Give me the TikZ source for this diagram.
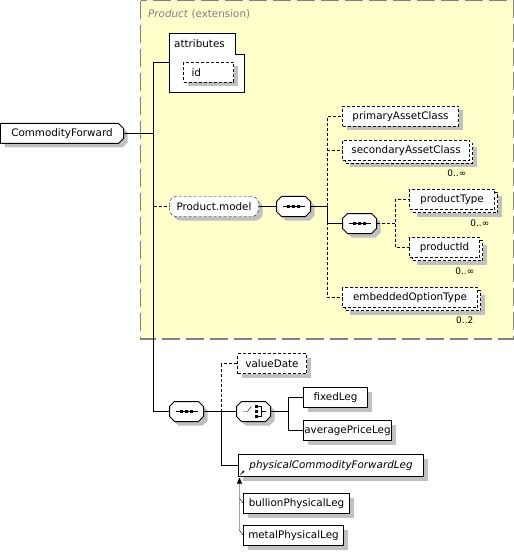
\documentclass[tikz,border=0pt]{standalone}
\usepackage{fontspec}
\setmainfont{DejaVu Sans}
\usetikzlibrary{shadows,arrows.meta}
\definecolor{ext}{RGB}{255,255,204}
\definecolor{shd}{RGB}{192,192,192}
\definecolor{extline}{RGB}{128,128,128}
\pgfdeclarelayer{frame}
\pgfdeclarelayer{shapes}
\pgfsetlayers{frame,shapes,main}

% outline with cut corners: #1 node, #2 cut on the left (0 = none), #3 path options
\newcommand{\chpath}[3]{%
  \path[#3] ([shift={(#2,0)}]#1.north west) -- ([shift={(-5,0)}]#1.north east)
    -- ([shift={(0,5)}]#1.north east) -- ([shift={(0,-5)}]#1.south east)
    -- ([shift={(-5,0)}]#1.south east) -- ([shift={(#2,0)}]#1.south west)
    -- ([shift={(0,-#2)}]#1.south west) -- ([shift={(0,#2)}]#1.north west) -- cycle;}
\newcommand{\chamf}[2]{%
  \begin{pgfonlayer}{shapes}
    \chpath{#1}{#2}{fill=shd,transform canvas={shift={(4bp,-4bp)}}}
    \chpath{#1}{#2}{draw=black,line width=1bp,fill=white}
  \end{pgfonlayer}}
\newcommand{\seqicon}[1]{%
  \chamf{#1}{5}
  \draw ([xshift=-11bp]#1.center) -- ([xshift=11bp]#1.center);
  \foreach \dx in {-5,0,5}
    \fill ([shift={(\dx-1.5,-1.5)}]#1.center) rectangle ++(3,3);
}
\newcommand{\choiceicon}[1]{%
  \chamf{#1}{5}
  \draw ([xshift=-11bp]#1.center) -- ++(5,0) -- ++(4,-5);
  \foreach \dy in {-5,0,5}
    \fill ([shift={(1.5,\dy-1.5)}]#1.center) rectangle ++(3,3);
  \draw ([shift={(4,-5)}]#1.center) -- ++(4,0) -- ++(0,10) -- ++(-4,0)
    ([shift={(8,0)}]#1.center) -- ++(4,0);
}

\begin{document}
\begin{tikzpicture}[x=1bp,y=-1bp,line width=1bp,
    font=\fontsize{10.4}{12}\selectfont,
    box/.style={draw,fill=white,anchor=west,minimum height=20bp,inner sep=0pt,outer sep=0pt},
    shd/.style={drop shadow={shadow xshift=4bp,shadow yshift=-4bp,fill=shd,opacity=1}},
    elem/.style={box,shd},
    opt/.style={dash pattern=on 3bp off 2bp},
    multi/.style={box,opt,
      general shadow={shadow xshift=7bp,shadow yshift=-7bp,fill=shd},
      general shadow={shadow xshift=3bp,shadow yshift=-3bp,fill=white,draw=black,
        dash pattern=on 3bp off 2bp}},
    cnode/.style={anchor=west,inner sep=0pt,outer sep=0pt,minimum height=20bp},
    comp/.style={cnode,minimum width=34bp},
    grp/.style={elem,opt,rounded corners=7bp},
    card/.style={anchor=base east,inner sep=0pt,font=\fontsize{9}{10}\selectfont}]
  \useasboundingbox (0,0) rectangle (514,553);

  % extension frame
  \begin{pgfonlayer}{frame}
    \draw[extline,fill=ext,line width=1.2bp,dash pattern=on 18bp off 6bp]
      (140.6,0.6) rectangle (513.4,339);
  \end{pgfonlayer}
  \node[anchor=west,inner sep=0pt,text=extline] (extlbl) at (148,14)
    {\textit{Product} (extension)};

  \node[cnode,minimum width=123bp] (cf) at (0.5,133.5) {CommodityForward};
  \chamf{cf}{0}

  % attributes
  \draw[fill=white] (169.5,33.5) -- (235.5,33.5) -- (235.5,54.5) -- (244.5,54.5)
    -- (244.5,92.5) -- (169.5,92.5) -- cycle;
  \node[anchor=west,inner sep=0pt] (attrlbl) at (174,43.5) {attributes};
  \coordinate (attr) at (169.5,62.5);
  \node[elem,opt,text width=34bp,align=left,inner xsep=8bp] (id) at (183.5,72.5) {id};

  \node[grp,minimum width=89bp] (pmodel) at (169.5,206.5) {Product.model};
  \node[comp] (seqA) at (276.5,206.5) {};
  \seqicon{seqA}

  \node[elem,opt,minimum width=116bp] (pac) at (342.5,116.5) {primaryAssetClass};
  \node[multi,minimum width=127bp] (sac) at (342.5,150.5) {secondaryAssetClass};
  \node[comp] (seqC) at (342.5,223.5) {};
  \seqicon{seqC}
  \node[multi,minimum width=85bp] (ptype) at (409.5,199.5) {productType};
  \node[multi,minimum width=70bp] (pid) at (409.5,247.5) {productId};
  \node[multi,minimum width=135bp] (eot) at (342.5,297.5) {embeddedOptionType};

  \node[card] (sacc) at ([shift={(-3,16)}]sac.south east) {0..∞};
  \node[card] (ptypec) at ([shift={(-5,17)}]ptype.south east) {0..∞};
  \node[card] (pidc) at ([shift={(-5,17)}]pid.south east) {0..∞};
  \node[card] (eotc) at ([shift={(-4,16)}]eot.south east) {0..2};

  % lower part
  \node[comp] (seqB) at (169.5,411.5) {};
  \seqicon{seqB}
  \node[elem,opt,minimum width=69bp] (vdate) at (237.5,363.5) {valueDate};
  \node[comp] (choice) at (236.5,411.5) {};
  \choiceicon{choice}
  \node[elem,minimum width=64bp] (fixed) at (303.5,397.5) {fixedLeg};
  \node[elem,minimum width=88bp] (avg) at (303.5,430.5) {averagePriceLeg};
  \node[elem,minimum width=185bp,minimum height=22bp,font=\fontsize{10.4}{12}\selectfont\itshape]
    (pcfl) at (238.5,465.5) {physicalCommodityForwardLeg};
  \draw[-{Stealth[length=2.5bp,width=2.5bp]},line width=0.7bp]
    ([shift={(2,-2)}]pcfl.south west) -- ++(4,-4);
  \node[elem,minimum width=106bp] (bpl) at (243.5,503.5) {bullionPhysicalLeg};
  \node[elem,minimum width=100bp] (mpl) at (243.5,535.5) {metalPhysicalLeg};

  % connectors
  \coordinate (tr) at (153.5,133.5);
  \draw (cf.east) -- (tr);
  \draw (tr) |- (attr);
  \draw (tr) |- (seqB.west);
  \draw[opt] (pmodel.west -| tr) -- (pmodel.west);
  \draw (pmodel.east) -- (seqA.west);
  \coordinate (b1) at (327.5,206.5);
  \draw (seqA.east) -- (b1);
  \draw[opt] (b1) |- (pac.west) (b1) |- (sac.west) (b1) |- (eot.west);
  \draw (b1) |- (seqC.west);
  \coordinate (b2) at (395.5,223.5);
  \draw[opt] (seqC.east) -- (b2) |- (ptype.west) (b2) |- (pid.west);

  \coordinate (b3) at (221.5,411.5);
  \draw (seqB.east) -- (b3);
  \draw[opt] (b3) |- (vdate.west);
  \draw (b3) -- (choice.west);
  \draw (b3) |- (pcfl.west);
  \coordinate (b4) at (288.5,411.5);
  \draw (choice.east) -- (b4) (b4) |- (fixed.west) (b4) |- (avg.west);

  \draw (bpl.west) -- ++(-4,-5);
  \draw[-{Triangle[width=5bp,length=6bp]}] (mpl.west) -- ++(-4,-5)
    -- ([shift={(1,1)}]pcfl.south west);
\end{tikzpicture}
\end{document}
